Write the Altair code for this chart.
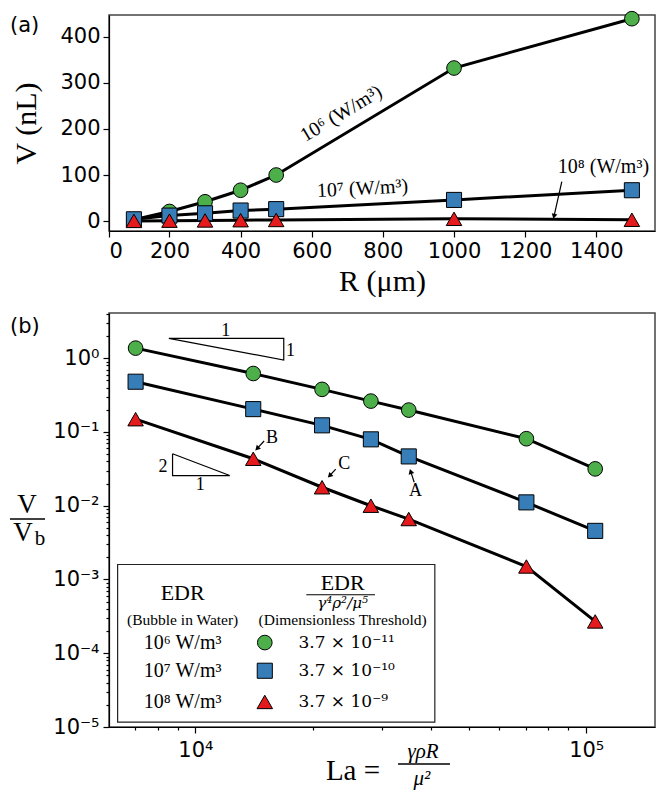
import altair as alt
import pandas as pd

SERIF = "Liberation Serif"
SERIF2 = "DejaVu Serif"
SANS = "DejaVu Sans"

# ---------------- data ----------------
SERIES = ["1e6", "1e7", "1e8"]
COLORS = ["#4daf4a", "#377eb8", "#e41a1c"]
SHAPES = ["circle", "square", "triangle-up"]
SIZES = [215, 240, 256]

# panel (a): bubble volume vs radius
R_um = [100, 200, 300, 400, 500, 1000, 1500]
V_1e6 = [3, 21, 42, 67, 100, 332, 439]
V_1e7 = [4, 12, 17, 23, 26, 46, 67]
V_1e8 = [0.5, 1.0, 1.5, 2.0, 2.5, 5.0, 3.0]

# panel (b): V/Vb vs Laplace number
La = [7030, 14060, 21090, 28120, 35150, 70300, 105450]
VVb_1e6 = [1.37, 0.62, 0.378, 0.262, 0.198, 0.081, 0.0316]
VVb_1e7 = [0.48, 0.204, 0.123, 0.0794, 0.0466, 0.0111, 0.00456]
VVb_1e8 = [0.149, 0.0433, 0.0178, 0.0100, 0.0066, 0.0015, 0.00027]

LEG_EDR = ["10⁶ W/m³", "10⁷ W/m³", "10⁸ W/m³"]
LEG_THR = ["3.7 × 10⁻¹¹", "3.7 × 10⁻¹⁰", "3.7 × 10⁻⁹"]

dfa = pd.DataFrame({
    "x": R_um * 3,
    "y": V_1e6 + V_1e7 + V_1e8,
    "s": [s for s in SERIES for _ in R_um],
})
dfb = pd.DataFrame({
    "x": La * 3,
    "y": VVb_1e6 + VVb_1e7 + VVb_1e8,
    "s": [s for s in SERIES for _ in La],
})

color = alt.Color("s:N", scale=alt.Scale(domain=SERIES, range=COLORS), legend=None)
shape = alt.Shape("s:N", scale=alt.Scale(domain=SERIES, range=SHAPES), legend=None)
size = alt.Size("s:N", scale=alt.Scale(domain=SERIES, range=SIZES), legend=None)


def txt(rows, fsize, font=SERIF, style="normal", align="center", baseline="middle", angle=0):
    df = pd.DataFrame(rows, columns=["x", "y", "t"])
    return alt.Chart(df).mark_text(font=font, fontSize=fsize, fontStyle=style, align=align,
                                   baseline=baseline, angle=angle, color="black").encode(text="t:N")


def ptxt(px, py, t, fsize, font=SERIF, style="normal", align="center", baseline="middle"):
    return alt.Chart(pd.DataFrame({"t": [t]})).mark_text(
        font=font, fontSize=fsize, fontStyle=style, align=align, baseline=baseline, color="black"
    ).encode(x=alt.value(px), y=alt.value(py), text="t:N")


def prule(x1, x2, py, w=1.3):
    return alt.Chart(pd.DataFrame({"t": [0]})).mark_rule(color="black", strokeWidth=w).encode(
        x=alt.value(x1), x2=alt.value(x2), y=alt.value(py))


def arrows(rows):
    df = pd.DataFrame(rows, columns=["x0", "y0", "x", "y", "a"])
    shaft = alt.Chart(df).mark_rule(color="black", strokeWidth=1.2).encode(
        x=alt.X("x0:Q"), y=alt.Y("y0:Q"), x2="x:Q", y2="y:Q")
    head = alt.Chart(df).mark_point(shape="triangle-up", filled=True, color="black",
                                    size=34, opacity=1).encode(angle=alt.Angle("a:Q", scale=None))
    return [shaft, head]


# ---------------- panel (a) ----------------
WA, HA = 546, 216
xa_scale = alt.Scale(domain=[30, 1565], nice=False, zero=False)
ya_scale = alt.Scale(domain=[-21.4, 447], nice=False, zero=False)
xa_axis = alt.Axis(values=[30, 200, 400, 600, 800, 1000, 1200, 1400], format="d",
                   labelExpr="datum.value < 100 ? '0' : datum.label",
                   title="R (μm)", titlePadding=5, grid=False)
ya_axis = alt.Axis(values=[0, 100, 200, 300, 400], format="d",
                   title="V (nL)", titlePadding=18, grid=False)

line_a = alt.Chart(dfa).mark_line(color="black", strokeWidth=3).encode(detail="s:N")
pts_a = alt.Chart(dfa).mark_point(filled=True, opacity=1, stroke="black", strokeWidth=1).encode(
    color=color, shape=shape, size=size)
ann_a = [
    txt([[683, 233, "10⁶ (W/m³)"]], 20, angle=329),
    txt([[743, 70.6, "10⁷ (W/m³)"]], 20, angle=357),
    txt([[1420, 117.6, "10⁸ (W/m³)"]], 20),
] + arrows([[1303, 85.6, 1281, 10.5, 194]])
lab_a = ptxt(-99, 0, "(a)", 21, font=SANS, align="left", baseline="top")

panel_a = alt.layer(line_a, pts_a, *ann_a, lab_a).encode(
    x=alt.X("x:Q", scale=xa_scale, axis=xa_axis),
    y=alt.Y("y:Q", scale=ya_scale, axis=ya_axis),
).properties(width=WA, height=HA)

# ---------------- panel (b) ----------------
WB, HB = 546, 414
MAJ = "abs(log(datum.value)/LN10 - round(log(datum.value)/LN10)) < 0.001"
XB_TICKS = [7000, 8000, 9000] + [k * 10000 for k in range(1, 10)] + [100000]
YB_TICKS = [k * 10.0 ** e for e in range(-5, 1) for k in range(1, 10) if k * 10.0 ** e <= 4.1]
xb_scale = alt.Scale(type="log", domain=[6010, 150000], nice=False)
yb_scale = alt.Scale(type="log", domain=[1e-5, 4.1], nice=False)
xb_axis = alt.Axis(values=XB_TICKS, title=None, grid=False, labelPadding=6,
                   labelExpr=f"{MAJ} ? ['10⁴','10⁵'][round(log(datum.value)/LN10)-4] : ''",
                   tickSize={"condition": {"test": MAJ, "value": 6}, "value": 3})
yb_axis = alt.Axis(values=YB_TICKS, title=None, grid=False, labelPadding=4,
                   labelExpr=f"{MAJ} ? ['10⁻⁵','10⁻⁴','10⁻³','10⁻²','10⁻¹','10⁰'][round(log(datum.value)/LN10)+5] : ''",
                   tickSize={"condition": {"test": MAJ, "value": 6}, "value": 3})

line_b = alt.Chart(dfb).mark_line(color="black", strokeWidth=3).encode(detail="s:N")
pts_b = alt.Chart(dfb).mark_point(filled=True, opacity=1, stroke="black", strokeWidth=1).encode(
    color=color, shape=shape, size=size)

slope_df = pd.DataFrame([
    [8550, 1.86, "t1", 0], [16830, 1.86, "t1", 1], [16830, 0.945, "t1", 2], [8550, 1.86, "t1", 3],
    [8740, 0.0506, "t2", 0], [8740, 0.02566, "t2", 1], [12240, 0.02566, "t2", 2], [8740, 0.0506, "t2", 3],
], columns=["x", "y", "g", "o"])
slopes = alt.Chart(slope_df).mark_line(color="black", strokeWidth=1.2).encode(
    detail="g:N", order="o:Q")
slope_lbl = txt([[11960, 2.31, "1"], [17520, 1.234, "1"], [8263, 0.0333, "2"], [10293, 0.01892, "1"]], 18)
letters = txt([[15700, 0.0828, "B"], [24040, 0.03625, "C"], [36570, 0.01567, "A"]], 18)
arr_b = arrows([
    [14990, 0.0754, 14380, 0.0595, 225],
    [22860, 0.03128, 22050, 0.0255, 225],
    [36300, 0.0208, 35550, 0.0292, 342],
])

leg_box = alt.Chart(pd.DataFrame({"x": [6323], "y": [1.166e-5], "x2": [40990], "y2": [0.001597]})).mark_rect(
    fill="white", stroke="#222", strokeWidth=1.2).encode(x2="x2:Q", y2="y2:Q")
ROW_Y = [1.395e-4, 5.79e-5, 2.186e-5]
leg_pts = alt.Chart(pd.DataFrame({"x": [15050] * 3, "y": ROW_Y, "s": SERIES})).mark_point(
    filled=True, opacity=1, stroke="black", strokeWidth=1).encode(color=color, shape=shape, size=size)
leg_edr = txt([[9276, yy, t] for yy, t in zip(ROW_Y, LEG_EDR)], 20)
leg_thr = txt([[18350, yy, t] for yy, t in zip(ROW_Y, LEG_THR)], 17, font=SERIF2, align="left")
leg_head1 = txt([[9276, 6.57e-4, "EDR"], [23810, 8.99e-4, "EDR"]], 22)
leg_sub = txt([[9276, 2.81e-4, "(Bubble in Water)"], [23810, 2.81e-4, "(Dimensionless Threshold)"]], 15.5)
leg_den = txt([[23810, 4.75e-4, "γ⁴ρ²/μ⁵"]], 15, font=SERIF2, style="italic")
leg_bar = alt.Chart(pd.DataFrame({"x": [19220], "x2": [28810], "y": [6.22e-4]})).mark_rule(
    color="black", strokeWidth=1.1).encode(x2="x2:Q")

lab_b = ptxt(-99, 3, "(b)", 21, font=SANS, align="left", baseline="top")
ytitle = [
    ptxt(-82, 192, "V", 27),
    prule(-99, -64, 206),
    ptxt(-86, 220, "V", 27),
    ptxt(-69, 226, "b", 21),
]
xtitle = [
    ptxt(244, 458, "La =", 29),
    ptxt(314, 439, "γρR", 21, style="italic"),
    prule(289, 341, 451),
    ptxt(313, 466, "μ²", 21, style="italic"),
]

panel_b = alt.layer(line_b, pts_b, slopes, slope_lbl, letters, *arr_b,
                    leg_box, leg_pts, leg_edr, leg_thr, leg_head1, leg_sub, leg_den, leg_bar,
                    lab_b, *ytitle, *xtitle).encode(
    x=alt.X("x:Q", scale=xb_scale, axis=xb_axis),
    y=alt.Y("y:Q", scale=yb_scale, axis=yb_axis),
).properties(width=WB, height=HB)

chart = alt.vconcat(panel_a, panel_b, spacing=15).properties(
    padding={"left": 0, "top": 0, "right": 0, "bottom": 0}
).configure_axis(
    labelFont=SANS, labelFontSize=21, labelColor="black", tickColor="black",
    domainColor="black", titleColor="black", tickWidth=1.2, domainWidth=1.2,
    tickSize=6, labelPadding=3,
    titleFont=SERIF, titleFontSize=30, titleFontWeight="normal",
).configure_view(stroke="#444", strokeWidth=1.5)

chart.save("out.html", embed_options={"renderer": "svg", "actions": False})
